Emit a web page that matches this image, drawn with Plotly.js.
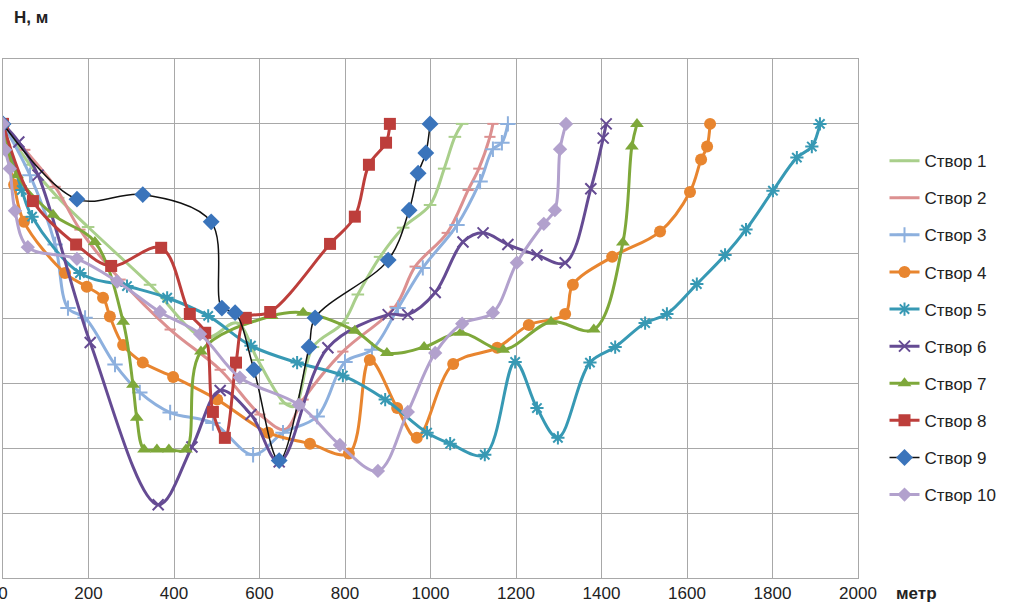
<!DOCTYPE html>
<html>
<head>
<meta charset="utf-8">
<script src="https://cdn.plot.ly/plotly-3.0.1.min.js"></script>
<style>html,body{margin:0;padding:0;background:#fff;}#chart{width:1019px;height:614px;}</style>
</head>
<body>
<div id="chart"></div>
<script>
// Series names
const names = ['Створ 1','Створ 2','Створ 3','Створ 4','Створ 5','Створ 6','Створ 7','Створ 8','Створ 9','Створ 10'];

// Distance (m) and elevation H (m) for each cross-section
const x1 = [0, 63, 129, 199, 344, 473, 547, 596, 660, 683, 725, 795, 830, 882, 936, 999, 1032, 1057, 1074];
const y1 = [0, -0.63, -1.14, -1.59, -2.48, -3.30, -3.07, -3.64, -4.31, -4.35, -3.44, -3.07, -2.63, -2.05, -1.60, -1.25, -0.69, -0.20, 0];

const x2 = [0, 51, 122, 180, 274, 391, 508, 601, 660, 702, 795, 917, 964, 1039, 1088, 1113, 1139, 1146];
const y2 = [0, -0.40, -0.97, -1.63, -2.40, -3.17, -3.79, -4.48, -4.71, -4.25, -3.51, -2.82, -2.20, -1.68, -1.02, -0.69, -0.20, 0];

const x3 = [0, 63, 122, 152, 192, 262, 320, 391, 491, 585, 655, 735, 800, 863, 924, 982, 1062, 1116, 1146, 1167, 1181];
const y3 = [0, -0.79, -1.86, -2.84, -2.99, -3.71, -4.14, -4.45, -4.61, -5.10, -4.76, -4.51, -3.67, -3.48, -2.84, -2.22, -1.56, -0.89, -0.39, -0.29, 0];

const x4 = [0, 26, 49, 145, 196, 234, 250, 281, 327, 398, 501, 620, 718, 809, 858, 922, 968, 1053, 1156, 1230, 1315, 1333, 1425, 1537, 1607, 1633, 1647, 1654];
const y4 = [0, -0.94, -1.51, -2.30, -2.51, -2.68, -2.97, -3.41, -3.68, -3.90, -4.25, -4.76, -4.93, -5.08, -3.64, -4.38, -4.84, -3.70, -3.45, -3.10, -2.93, -2.48, -2.05, -1.66, -1.05, -0.55, -0.35, 0];

const x5 = [0, 44, 68, 180, 290, 384, 480, 580, 688, 795, 894, 992, 1046, 1127, 1198, 1249, 1298, 1373, 1432, 1502, 1553, 1623, 1689, 1738, 1801, 1857, 1892, 1911];
const y5 = [0, -1.02, -1.43, -2.30, -2.50, -2.68, -2.96, -3.42, -3.68, -3.88, -4.25, -4.76, -4.93, -5.10, -3.67, -4.38, -4.84, -3.68, -3.44, -3.07, -2.93, -2.47, -2.02, -1.63, -1.03, -0.52, -0.35, 0];

const x6 = [0, 37, 82, 204, 363, 442, 508, 580, 646, 760, 901, 947, 1011, 1076, 1123, 1181, 1249, 1315, 1375, 1404, 1411];
const y6 = [0, -0.28, -0.79, -3.37, -5.87, -4.98, -4.11, -4.48, -5.21, -3.45, -2.94, -2.94, -2.60, -1.82, -1.68, -1.86, -2.02, -2.14, -1.00, -0.22, 0];

const x7 = [0, 33, 117, 215, 281, 304, 313, 330, 360, 388, 428, 463, 629, 702, 823, 898, 985, 1071, 1170, 1282, 1382, 1450, 1471, 1483];
const y7 = [0, -0.79, -1.40, -1.82, -3.05, -4.02, -4.53, -5.02, -5.02, -5.02, -5.02, -3.51, -2.96, -2.91, -3.19, -3.53, -3.44, -3.22, -3.48, -3.05, -3.17, -1.83, -0.35, 0];

const x8 = [0, 70, 171, 253, 370, 437, 473, 491, 519, 545, 568, 625, 765, 823, 856, 896, 905];
const y8 = [0, -1.19, -1.86, -2.19, -1.91, -2.93, -3.22, -4.44, -4.84, -3.68, -2.99, -2.90, -1.85, -1.43, -0.63, -0.29, 0];

const x9 = [0, 173, 327, 487, 512, 543, 587, 646, 716, 730, 901, 950, 971, 989, 999];
const y9 = [0, -1.16, -1.09, -1.51, -2.84, -2.91, -3.79, -5.19, -3.44, -2.99, -2.10, -1.33, -0.76, -0.45, 0];

const x10 = [0, 5, 16, 28, 58, 173, 267, 367, 461, 554, 692, 788, 877, 947, 1011, 1074, 1146, 1202, 1265, 1291, 1303, 1317];
const y10 = [0, -0.40, -0.69, -1.34, -1.90, -2.08, -2.43, -2.90, -3.24, -3.91, -4.33, -4.95, -5.35, -4.44, -3.53, -3.08, -2.91, -2.14, -1.54, -1.33, -0.39, 0];

const xTicks = [0, 200, 400, 600, 800, 1000, 1200, 1400, 1600, 1800, 2000];

const xs = [x1,x2,x3,x4,x5,x6,x7,x8,x9,x10];
const ys = [y1,y2,y3,y4,y5,y6,y7,y8,y9,y10];

const styles = [
  {lc:'#a9cf8b', lw:3, sym:'line-ew-open', ms:9, mc:'#a9cf8b'},
  {lc:'#dc9090', lw:3, sym:'line-ew-open', ms:8, mc:'#dc9090'},
  {lc:'#8db0de', lw:3, sym:'cross-thin-open', ms:11, mc:'#8db0de'},
  {lc:'#e8852f', lw:3, sym:'circle', ms:12, mc:'#e8852f'},
  {lc:'#3799b4', lw:3, sym:'asterisk-open', ms:11, mc:'#3799b4'},
  {lc:'#654b93', lw:3, sym:'x-thin-open', ms:11, mc:'#654b93'},
  {lc:'#7ea83a', lw:3, sym:'triangle-up', ms:12, mc:'#7ea83a'},
  {lc:'#bd3e3b', lw:3, sym:'square', ms:12, mc:'#bd3e3b'},
  {lc:'#111111', lw:1.5, sym:'diamond', ms:13, mc:'#3a74bb'},
  {lc:'#b2a1cd', lw:3, sym:'diamond', ms:11, mc:'#b2a1cd'}
];

const traces = names.map((n,i)=>({
  type:'scatter', mode:'lines+markers', name:n, legendgroup:'g'+i,
  x: xs[i], y: ys[i],
  line:{color:styles[i].lc, width:styles[i].lw, shape:'spline', smoothing:1},
  marker:{symbol:styles[i].sym, size:styles[i].ms, color:styles[i].mc,
          line:{color:styles[i].mc, width:(styles[i].sym.indexOf('open')>=0?2:0)}}
}));

const layout = {
  width:1019, height:614,
  margin:{l:3, r:161, t:59, b:36},
  paper_bgcolor:'#ffffff', plot_bgcolor:'#ffffff',
  font:{family:'Liberation Sans, Arial, sans-serif', size:17, color:'#222'},
  showlegend:true,
  legend:{x:1.031, xanchor:'left', y:0.838, yanchor:'top', tracegroupgap:12,
          font:{size:17, color:'#222'}, bgcolor:'rgba(0,0,0,0)'},
  xaxis:{range:[0,2000], tickvals:xTicks, ticktext:xTicks.map(String), showgrid:true,
         gridcolor:'#a8a8a8', gridwidth:1, zeroline:false, showline:true, linecolor:'#a8a8a8',
         mirror:true, ticks:'', ticklabeloverflow:'allow', tickfont:{size:17, color:'#222'}},
  yaxis:{range:[-7,1], dtick:1, showgrid:true, gridcolor:'#a8a8a8', gridwidth:1,
         zeroline:false, showline:true, linecolor:'#a8a8a8', mirror:true,
         showticklabels:false, ticks:''},
  annotations:[
    {text:'<b>H, м</b>', xref:'paper', yref:'paper', x:0.01, y:1.079, xanchor:'left', yanchor:'middle',
     showarrow:false, font:{size:17, color:'#222'}},
    {text:'<b>метр</b>', xref:'paper', yref:'paper', x:1.069, y:-0.03, xanchor:'center', yanchor:'middle',
     showarrow:false, font:{size:17, color:'#222'}}
  ]
};

Plotly.newPlot('chart', traces, layout, {displayModeBar:false, staticPlot:true});
</script>
</body>
</html>
